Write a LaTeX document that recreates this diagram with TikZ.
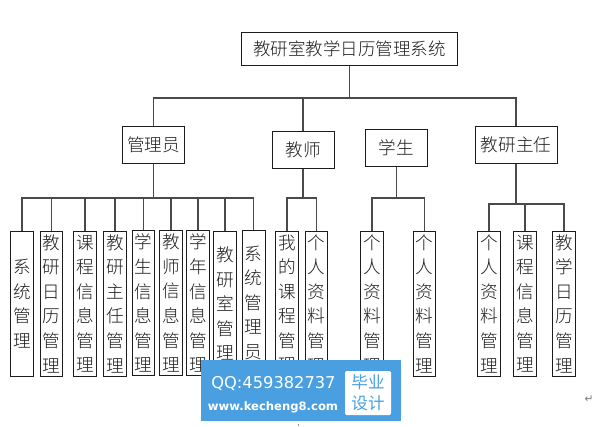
\documentclass[tikz,border=0pt]{standalone}
\usepackage{fontspec}
\setmainfont{Noto Sans CJK SC}[UprightFont={* Light}]
\newfontfamily\badgefont{Noto Sans CJK SC}
\newfontfamily\uifont{DejaVu Sans}
\usepackage{xcolor}
\usetikzlibrary{calc}
\definecolor{ink}{HTML}{1C1C1C}
\definecolor{wire}{HTML}{4A4A4A}
\definecolor{mark}{HTML}{4A9FE0}
\tikzset{
  base/.style={draw=ink, line width=0.75pt, fill=white, inner sep=0pt, text=ink, align=center},
  top/.style={base, minimum width=46.5pt, minimum height=28pt, font=\fontsize{13.2}{15}\selectfont},
  leaf/.style={base, minimum width=17pt, minimum height=108.5pt, font=\fontsize{13.2}{18.4}\selectfont},
  link/.style={draw=wire, line width=0.8pt},
  band/.style={fill=mark, inner sep=0pt, minimum width=150pt, minimum height=45.75pt},
  badge/.style={fill=white, rounded corners=1pt, inner sep=0pt, minimum width=34.5pt, minimum height=33pt, text=mark, align=center, font=\badgefont\fontsize{12.4}{15.5}\selectfont},
  wmark/.style={text=white, inner sep=0pt},
}

\begin{document}
\begin{tikzpicture}[x=0.75pt,y=-0.75pt]
  \useasboundingbox (0,0) rectangle (602,426);

  \node[base, minimum width=162.5pt, minimum height=24.5pt, font=\fontsize{13.1}{15}\selectfont] (sys) at (349.5,48.7) {教研室教学日历管理系统};

  \node[top] (adm) at (153.5,145) {管理员};
  \node[top] (tea) at (303,150) {教师};
  \node[top] (stu) at (396.5,148) {学生};
  \node[top, minimum width=61.5pt] (dir) at (516,145) {教研主任};

  % leaves of each role
  \node[leaf] (a1) at (22,303.7) {系\\统\\管\\理};
  \node[leaf] (a2) at (51.5,303.7) {教\\研\\日\\历\\管\\理};
  \node[leaf] (a3) at (85,303.7) {课\\程\\信\\息\\管\\理};
  \node[leaf] (a4) at (115,303.7) {教\\研\\主\\任\\管\\理};
  \node[leaf] (a5) at (143.5,303.2) {学\\生\\信\\息\\管\\理};
  \node[leaf] (a6) at (171,303.2) {教\\师\\信\\息\\管\\理};
  \node[leaf] (a7) at (198,303.2) {学\\年\\信\\息\\管\\理};
  \node[leaf] (a8) at (225,303.7) {教\\研\\室\\管\\理};
  \node[leaf] (a9) at (253.7,302.7) {系\\统\\管\\理\\员};
  \node[leaf] (t1) at (287,303.7) {我\\的\\课\\程\\管\\理};
  \node[leaf] (t2) at (316.5,303.7) {个\\人\\资\\料\\管\\理};
  \node[leaf] (s1) at (372,303.7) {个\\人\\资\\料\\管\\理};
  \node[leaf] (s2) at (424.5,303.7) {个\\人\\资\\料\\管\\理};
  \node[leaf] (d1) at (489,303.7) {个\\人\\资\\料\\管\\理};
  \node[leaf] (d2) at (525,303.7) {课\\程\\信\\息\\管\\理};
  \node[leaf] (d3) at (564,303.7) {教\\学\\日\\历\\管\\理};

  % trunk lines
  \coordinate (busS) at (349.5,98);
  \coordinate (busA) at (153.5,198);
  \coordinate (busT) at (303,198);
  \coordinate (busU) at (396.5,198);
  \coordinate (busD) at (516,204);
  \draw[link] (sys.south) -- (busS);
  \draw[link] (busS) -| (adm.north);
  \draw[link] (busS) -| (tea.north);
  \draw[link] (busS) -| (dir.north);
  \draw[link] (adm.south) -- (busA);
  \draw[link] (tea.south) -- (busT);
  \draw[link] (stu.south) -- (busU);
  \draw[link] (dir.south) -- (busD);

  \draw[link] (busA) -| (a1.north);
  \draw[link] (busA) -| (a2.north);
  \draw[link] (busA) -| (a3.north);
  \draw[link] (busA) -| (a4.north);
  \draw[link] (busA) -| (a5.north);
  \draw[link] (busA) -| (a6.north);
  \draw[link] (busA) -| (a7.north);
  \draw[link] (busA) -| (a8.north);
  \draw[link] (busA) -| (a9.north);
  \draw[link] (busT) -| (t1.north);
  \draw[link] (busT) -| (t2.north);
  \draw[link] (busU) -| (s1.north);
  \draw[link] (busU) -| (s2.north);
  \draw[link] (busD) -| (d1.north);
  \draw[link] (busD) -| (d2.north);
  \draw[link] (busD) -| (d3.north);

  % watermark
  \node[band] (wm) at (301,390.5) {};
  \node[wmark, font=\uifont\fontsize{12.2}{14}\selectfont] (wmq) at (273.5,383) {QQ:459382737};
  \node[wmark, font=\uifont\bfseries\fontsize{8.7}{11}\selectfont] (wmu) at (273,407) {www.kecheng8.com};
  \node[badge] (wmb) at (368,393) {毕业\\设计};

  \node[text=ink!60, inner sep=0pt, font=\uifont\fontsize{8}{9}\selectfont] (ret) at (589,399) {↵};
  \draw[ink!50, line width=0.5pt] (298,424) -- (298,426);
\end{tikzpicture}
\end{document}
